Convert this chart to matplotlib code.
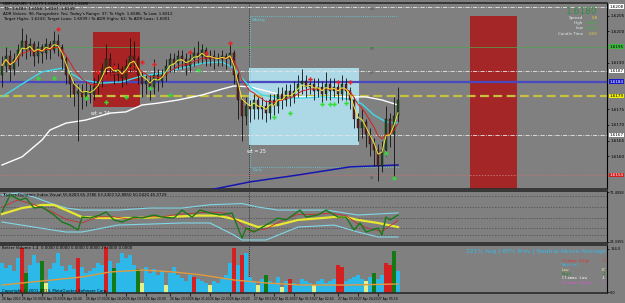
import numpy as np
import pandas as pd
import matplotlib
matplotlib.use("Agg")
import matplotlib.pyplot as plt
from matplotlib.patches import Rectangle
from matplotlib.ticker import FormatStrFormatter

# ===========================================
# GBPUSD M5 chart with TDI + Better Volume

### Price bars (open of first bar, then close / high / low per bar)
first_open = 1.6186
close = [1.6189, 1.6192, 1.6188, 1.6191, 1.6194, 1.6197, 1.6194, 1.6196, 1.6192, 1.6195,
         1.6193, 1.6196, 1.6194, 1.6197, 1.6195, 1.6191, 1.6186, 1.6183, 1.6180, 1.6181,
         1.6179, 1.6181, 1.6180, 1.6182, 1.6184, 1.6188, 1.6191, 1.6189, 1.6186, 1.6188,
         1.6185, 1.6189, 1.6192, 1.6191, 1.6186, 1.6183, 1.6184, 1.6182, 1.6186, 1.6184,
         1.6186, 1.6189, 1.6191, 1.6190, 1.6192, 1.6191, 1.6189, 1.6191, 1.6193, 1.6192,
         1.6194, 1.6191, 1.6192, 1.6191, 1.6191, 1.6192, 1.6191, 1.6193, 1.6186, 1.6178,
         1.6173, 1.6176, 1.6175, 1.6178, 1.6175, 1.6176, 1.6174, 1.6178, 1.6176, 1.6180,
         1.6178, 1.6181, 1.6179, 1.6181, 1.6183, 1.6184, 1.6182, 1.6183, 1.6181, 1.6182,
         1.6180, 1.6183, 1.6181, 1.6182, 1.6180, 1.6183, 1.6181, 1.6178, 1.6172, 1.6169,
         1.6171, 1.6167, 1.6164, 1.6162, 1.6157, 1.6162, 1.6172, 1.6167, 1.6173, 1.6178]
high = [1.6192, 1.6195, 1.6194, 1.6193, 1.6196, 1.6201, 1.6199, 1.6198, 1.6197, 1.6197,
        1.6196, 1.6198, 1.6197, 1.6200, 1.6199, 1.6196, 1.6192, 1.6187, 1.6184, 1.6183,
        1.6183, 1.6184, 1.6183, 1.6185, 1.6187, 1.6190, 1.6196, 1.6193, 1.6190, 1.6190,
        1.6189, 1.6191, 1.6198, 1.6197, 1.6192, 1.6187, 1.6186, 1.6186, 1.6191, 1.6188,
        1.6188, 1.6191, 1.6193, 1.6193, 1.6194, 1.6194, 1.6193, 1.6193, 1.6195, 1.6197,
        1.6196, 1.6195, 1.6194, 1.6194, 1.6193, 1.6194, 1.6193, 1.6196, 1.6194, 1.6187,
        1.6179, 1.6179, 1.6178, 1.6180, 1.6179, 1.6179, 1.6178, 1.6180, 1.6180, 1.6182,
        1.6182, 1.6183, 1.6183, 1.6184, 1.6186, 1.6188, 1.6186, 1.6185, 1.6185, 1.6185,
        1.6184, 1.6187, 1.6185, 1.6185, 1.6184, 1.6186, 1.6185, 1.6182, 1.6179, 1.6174,
        1.6175, 1.6172, 1.6169, 1.6166, 1.6164, 1.6165, 1.6176, 1.6174, 1.6179, 1.6182]
low = [1.6182, 1.6187, 1.6184, 1.6186, 1.6189, 1.6192, 1.6191, 1.6192, 1.6189, 1.6190,
       1.6190, 1.6191, 1.6191, 1.6193, 1.6192, 1.6188, 1.6183, 1.6179, 1.6176, 1.6165,
       1.6175, 1.6176, 1.6177, 1.6178, 1.6180, 1.6182, 1.6186, 1.6186, 1.6183, 1.6184,
       1.6182, 1.6183, 1.6187, 1.6188, 1.6183, 1.6179, 1.6180, 1.6178, 1.6180, 1.6181,
       1.6182, 1.6184, 1.6187, 1.6187, 1.6188, 1.6188, 1.6186, 1.6187, 1.6189, 1.6190,
       1.6190, 1.6189, 1.6189, 1.6188, 1.6189, 1.6189, 1.6188, 1.6189, 1.6183, 1.6172,
       1.6165, 1.6170, 1.6171, 1.6172, 1.6172, 1.6172, 1.6171, 1.6172, 1.6173, 1.6174,
       1.6175, 1.6176, 1.6176, 1.6177, 1.6179, 1.6180, 1.6179, 1.6180, 1.6178, 1.6179,
       1.6177, 1.6178, 1.6178, 1.6179, 1.6177, 1.6178, 1.6178, 1.6175, 1.6169, 1.6165,
       1.6166, 1.6163, 1.6160, 1.6157, 1.6152, 1.6155, 1.6160, 1.6163, 1.6153, 1.6171]

### Slow moving averages
cyan_bar = [0, 5, 10, 15, 20, 25, 30, 35, 40, 45, 50, 55, 58, 60, 62, 65, 70, 75, 80, 85, 88, 90, 93, 96, 99]
cyan_ma = [1.61790, 1.61831, 1.61870, 1.61882, 1.61844, 1.61834, 1.61838, 1.61857, 1.61866, 1.61882,
           1.61898, 1.61902, 1.61882, 1.61850, 1.61822, 1.61796, 1.61786, 1.61786, 1.61790, 1.61786,
           1.61780, 1.61767, 1.61732, 1.61710, 1.61706]
white_bar = [0, 5, 10, 12, 16, 21, 27, 31, 35, 39, 44, 50, 55, 58, 62, 70, 75, 83, 91, 95, 99]
white_ma = [1.61572, 1.61598, 1.61652, 1.61684, 1.61706, 1.61716, 1.61738, 1.61742, 1.61764, 1.61770,
            1.61780, 1.61796, 1.61815, 1.61825, 1.61822, 1.61796, 1.61790, 1.61790, 1.61790, 1.61780,
            1.61764]
blue_bar = [50, 53, 62, 74, 87, 99]
blue_ma = [1.61485, 1.61495, 1.61518, 1.61540, 1.61566, 1.61572]

### Signal arrows
sell_bar = [14, 24, 28, 35, 38, 47, 51, 57, 77, 84, 87]
sell_price = [1.62007, 1.61870, 1.61886, 1.61902, 1.61895, 1.61934, 1.61930, 1.61962, 1.61847, 1.61838, 1.61838]
buy_bar = [9, 13, 21, 26, 31, 37, 42, 49, 68, 72, 80, 82, 83, 86, 96, 98]
buy_price = [1.61850, 1.61850, 1.61786, 1.61774, 1.61790, 1.61818, 1.61796, 1.61876,
             1.61726, 1.61738, 1.61767, 1.61767, 1.61767, 1.61770, 1.61610, 1.61530]

### Zones (bar from, bar to, price top, price bottom)
zone_from = [22.75, 61.75, 117.0]
zone_to = [34.5, 89.25, 128.75]
zone_top = [1.61998, 1.61882, 1.62049]
zone_bot = [1.61758, 1.61636, 1.61495]
zone_text = ["wt = 24", "wt = 25", ""]

### Horizontal levels
level_price = [1.62078, 1.61873, 1.61668, 1.61950, 1.61838, 1.61793, 1.61540]
level_tag = ["1.6208", "1.6187", "1.6167", "1.6195", "1.6184", "1.6179", "1.6154"]
pivot_name = ["R2", "R1", "PP", "S1"]
pivot_price = [1.62071, 1.61943, 1.61866, 1.61530]
range_top = 1.62049
range_bot = 1.61566
day_break = 61.75
price_ticks = [1.6160, 1.6165, 1.6170, 1.6175, 1.6190, 1.6200, 1.6205]

### TDI
tdi_bar = [0, 2, 4.5, 6, 8, 10, 13, 15, 17, 19, 20, 22, 24.5, 26, 28, 30, 33, 35, 38, 40, 43, 45,
           47.5, 49.5, 52, 54.5, 57.5, 59, 60, 61, 63, 66, 69, 71, 74.5, 76, 79, 81, 84, 86, 88,
           89.5, 91, 94, 95, 96, 97, 99]
rsi_green = [54.0, 68.1, 63.9, 65.6, 57.3, 58.1, 51.5, 45.7, 43.2, 39.1, 49.8, 49.0, 51.5, 54.0,
             47.4, 45.7, 49.8, 49.0, 51.5, 49.8, 49.0, 55.6, 49.8, 55.6, 53.2, 51.5, 53.2, 40.7,
             32.4, 40.7, 37.4, 43.2, 49.0, 47.4, 55.6, 49.8, 51.5, 55.6, 49.8, 49.8, 39.1, 44.9,
             37.4, 40.7, 34.9, 49.8, 47.4, 51.5]
sig_bar = [0, 4, 8, 12, 16, 20, 24, 28, 32, 36, 40, 44, 48, 52, 56, 59, 62, 66, 70, 74, 78, 82, 86, 89, 92, 95, 99]
sig_red = [58, 64, 60, 55, 48, 45, 50, 50, 48, 50, 50, 52, 53, 54, 53, 46, 38, 40, 47, 52, 52, 53, 51, 44, 40, 38, 47]
base_bar = [0, 5, 10, 13, 16, 20, 25, 33, 41, 49, 54, 59, 64, 69, 74, 83, 86, 89, 94, 99]
base_yel = [52.3, 57.3, 59.8, 59.8, 55.6, 49.8, 49.0, 49.0, 49.8, 51.0, 51.0, 47.4, 41.5, 43.2,
            47.4, 49.8, 49.8, 47.4, 44.9, 41.5]
up_bar = [0, 4, 8, 12, 16, 20, 29, 37, 45, 52, 60, 64, 69, 81, 89, 99]
band_up = [68.1, 69.7, 66.4, 61.4, 57.3, 55.6, 55.6, 57.3, 57.3, 60.0, 61.0, 58.1, 55.6, 55.6, 51.5, 53.2]
lo_bar = [0, 8, 16, 20, 29, 37, 45, 52, 58, 60, 66, 74, 83, 89, 94, 99]
band_lo = [45.7, 41.5, 37.4, 37.4, 43.2, 44.0, 44.9, 44.9, 34.9, 30.8, 30.8, 41.5, 43.2, 37.4, 33.3, 33.3]
tdi_levels = [67, 58, 49, 41, 35]

### Better Volume
volume = [120, 100, 112, 88, 140, 180, 80, 112, 152, 120,
          128, 40, 96, 120, 160, 108, 88, 112, 96, 140,
          104, 80, 88, 100, 120, 112, 184, 128, 100, 120,
          160, 140, 152, 112, 96, 40, 104, 80, 96, 72,
          88, 32, 80, 104, 72, 60, 48, 72, 64, 56,
          48, 40, 32, 48, 40, 56, 72, 120, 180, 112,
          152, 160, 64, 48, 32, 56, 72, 48, 40, 64,
          24, 48, 56, 40, 32, 56, 48, 40, 32, 48,
          56, 40, 48, 56, 112, 104, 48, 56, 64, 72,
          56, 48, 64, 80, 56, 72, 120, 112, 168, 88]
vol_type = list("nnnnnchnnn" "hlnnnnnnnc" "nnnnnncnhn" "nnnnhlnnnn" "nlnnnnnncn"
                "nnlnnnnncn" "cnnnlnhnnn" "lncnnnnnln" "nnnnccnnnn" "nlnhnncchn")
avg_bar = [0, 10, 20, 27, 35, 43, 50, 58, 66, 75, 87, 99]
avg_vol = [32, 48, 64, 84, 92, 84, 72, 52, 40, 32, 32, 36]

time_ticks = [0, 5, 10, 15, 21, 26, 31, 36, 42, 47, 52, 57, 63, 68, 73, 78, 84, 89, 94]
time_labels = ["26 Apr 2013", "26 Apr 15:00", "26 Apr 15:50", "26 Apr 16:40", "26 Apr 17:30",
               "26 Apr 18:20", "26 Apr 19:10", "26 Apr 20:00", "26 Apr 20:50", "26 Apr 21:40",
               "26 Apr 22:30", "26 Apr 23:20", "27 Apr 00:10", "27 Apr 01:00", "27 Apr 01:50",
               "27 Apr 02:40", "27 Apr 03:30", "27 Apr 04:20", "27 Apr 05:10"]

# ===========================================

W, H = 625., 303.
BG = '#808080'
TS = 3.0  # tiny MT4 text size

def fy(ypx):
    return 1 - ypx / H

fig = plt.figure(figsize=(6.25, 3.03), dpi=100)
fig.patch.set_facecolor(BG)

right = 607 / W
ax1 = fig.add_axes([0, fy(189), right, 186 / H])
ax2 = fig.add_axes([0, fy(243), right, 52 / H])
ax3 = fig.add_axes([0, fy(293), right, 48 / H])

for ax in (ax1, ax2, ax3):
    ax.set_facecolor(BG)
    ax.set_xlim(-0.5, 151.25)
    ax.spines['left'].set_visible(False)
    for s in ('top', 'bottom'):
        ax.spines[s].set_color('#2a2a2a')
        ax.spines[s].set_linewidth(1.2)
    ax.spines['right'].set_color('black')
    ax.spines['right'].set_linewidth(0.8)
    ax.yaxis.tick_right()
    ax.tick_params(axis='y', labelsize=TS, length=1.5, pad=0.8, width=0.5)
    ax.tick_params(axis='x', length=0, labelbottom=False)
    ax.axvline(day_break, color='#1a1a1a', ls=(0, (1, 1.5)), lw=0.6, zorder=1)

### ---- main price panel ----
ax1.set_ylim(1.614952, 1.620904)
ax1.set_yticks(price_ticks)
ax1.yaxis.set_major_formatter(FormatStrFormatter('%.4f'))

zone_col = ['#a82424', '#add8e6', '#a52626']
for i in range(len(zone_from)):
    ax1.add_patch(Rectangle((zone_from[i], zone_bot[i]), zone_to[i] - zone_from[i],
                            zone_top[i] - zone_bot[i], fc=zone_col[i], ec='none', zorder=1))
    if zone_text[i]:
        ax1.text(zone_from[i] - 0.5, zone_bot[i] - 0.0002, zone_text[i], color='white',
                 fontsize=3.4, va='center', ha='left', zorder=6)

# horizontal levels
lv_style = [dict(color='#e8e8e8', ls=(0, (5, 1.5, 1, 1.5)), lw=0.6),
            dict(color='#e8e8e8', ls=(0, (5, 1.5, 1, 1.5)), lw=0.6),
            dict(color='#e8e8e8', ls=(0, (5, 1.5, 1, 1.5)), lw=0.6),
            dict(color='#4ea84e', ls='-', lw=0.5),
            dict(color='#4848c0', ls='-', lw=1.6),
            dict(color='#c8c040', ls=(0, (4, 2)), lw=1.6),
            dict(color='#c07070', ls=(0, (1.5, 1.5)), lw=0.7)]
tag_col = [('white', 'black'), ('white', 'black'), ('white', 'black'), ('#3cb83c', 'black'),
           ('#1a1acc', 'white'), ('#f0f000', 'black'), ('#d02020', 'white')]
for i, p in enumerate(level_price):
    ax1.axhline(p, zorder=2, **lv_style[i])
    ax1.text(1.004, p, level_tag[i], transform=ax1.get_yaxis_transform(), fontsize=TS,
             color=tag_col[i][1], va='center', ha='left', clip_on=False, zorder=10,
             bbox=dict(boxstyle='square,pad=0.1', fc=tag_col[i][0], ec='none'))

# pivot range box
ax1.plot([day_break + 0.25, 98.75], [range_top, range_top], color='#5fd0e0', ls=(0, (1, 1.5)), lw=0.6, zorder=2)
ax1.plot([day_break + 0.25, 99.5], [range_bot, range_bot], color='#5fd0e0', ls=(0, (1, 1.5)), lw=0.6, zorder=2)
ax1.plot([day_break + 0.25, day_break + 0.25], [range_bot, range_top], color='#5fd0e0', ls=(0, (1, 1.5)), lw=0.6, zorder=2)
ax1.text(day_break + 0.8, range_top - 0.00008, "Weekly", color='#5fd0e0', fontsize=2.8, va='top', zorder=6)
ax1.text(day_break + 0.8, range_bot - 0.00004, "Daily", color='#5fd0e0', fontsize=2.8, va='top', zorder=6)
for n, p in zip(pivot_name, pivot_price):
    ax1.text(92, p, n, color='#505050', fontsize=2.8, va='center', zorder=6)

# moving averages
ax1.plot(white_bar, white_ma, color='white', lw=1.0, zorder=3)
ax1.plot(cyan_bar, cyan_ma, color='#40d8e8', lw=1.0, zorder=3)
ax1.plot(blue_bar, blue_ma, color='#1515b0', lw=1.1, zorder=3)

# candles
idx = np.arange(len(close))
opn = np.array([first_open] + close[:-1])
cls = np.array(close)
ax1.vlines(idx, low, high, color='#101010', lw=0.6, zorder=4)
body_lo = np.minimum(opn, cls)
body_h = np.maximum(np.abs(cls - opn), 0.00003)
body_c = np.where(cls >= opn, '#1f4f1f', '#6a1c1c')
ax1.bar(idx, body_h, 0.55, bottom=body_lo, color=body_c, edgecolor='#101010', lw=0.3, zorder=4)

fast = pd.Series(close).ewm(span=3).mean()
slow = pd.Series(close).ewm(span=8).mean()
ax1.plot(idx, slow, color='#d42020', lw=0.7, zorder=5)
ax1.plot(idx, fast, color='#f0e830', lw=0.7, zorder=5)

ax1.plot(sell_bar, sell_price, 'P', color='#e82020', ms=3.2, mew=0, zorder=6)
ax1.plot(buy_bar, buy_price, 'P', color='#30e030', ms=3.2, mew=0, zorder=6)

# header text
hdr = ["GBPUSD,M5  1.6179 1.6182 1.6174 1.6180",
       "TDI: 1.6183  1.6188  1.6197  1.6199",
       "ADR Values: 96, Rangedistr: Yes; Today's Range: 37; To High: 1.6086, To Low: 1.6012",
       "Target Highs: 1.6243; Target Lows: 1.6099 / To ADR Highs: 62; To ADR Lows: 1.6001"]
for k, t in enumerate(hdr):
    fig.text(3 / W, fy(4 + 5 * k), t, fontsize=2.9, color='black', va='center')

fig.text(598 / W, fy(12), "1.6180", fontsize=6.5, color='#2f8f3f', ha='right', va='center')
info = [("Spread", "0.8", '#e0d040'), ("High", "1.6188", '#40b040'),
        ("Low", "1.6162", '#40b040'), ("Candle Time", "0:50", '#e0d040')]
for k, (lab, val, c) in enumerate(info):
    fig.text(583 / W, fy(18 + 5.2 * k), lab, fontsize=2.9, color='#e8e8e8', ha='right', va='center')
    fig.text(598 / W, fy(18 + 5.2 * k), val, fontsize=2.9, color=c, ha='right', va='center')

### ---- TDI panel ----
ax2.set_ylim(28.3, 71.4)
ax2.set_yticks([70.5, 29.3])
ax2.set_yticklabels(["71.4058", "28.3355"])
ax2.tick_params(axis='y', labelsize=2.5)
for lv in tdi_levels:
    ax2.axhline(lv, color='#4a4a4a', ls=(0, (2, 2)), lw=0.5, zorder=1)
ax2.plot(up_bar, band_up, color='#80d8e8', lw=0.8, zorder=2)
ax2.plot(lo_bar, band_lo, color='#80d8e8', lw=0.8, zorder=2)
ax2.plot(base_bar, base_yel, color='#e8e830', lw=1.6, zorder=3)
ax2.plot(sig_bar, sig_red, color='#c83030', lw=0.6, zorder=3)
ax2.plot(tdi_bar, rsi_green, color='#1a7a1a', lw=1.0, zorder=4)
ax2.text(0.004, 0.93, "Traders Dynamic Index Visual 55.8283 65.3786 53.2400 52.8850 50.0420 45.0729",
         transform=ax2.transAxes, fontsize=2.9, color='black', va='center')

### ---- Volume panel ----
ax3.set_ylim(0, 192)
ax3.set_yticks([178, 4])
ax3.set_yticklabels(["184.0", "0.0"])
ax3.tick_params(axis='y', labelsize=2.5)
vcol = {'n': '#2cb8e8', 'c': '#d42020', 'h': '#157a15', 'l': '#e6f08a'}
ax3.bar(idx, volume, 0.8, color=[vcol[t] for t in vol_type], zorder=2)
ax3.plot(avg_bar, avg_vol, color='#e09a40', lw=1.0, zorder=3)
ax3.text(0.004, 0.93, "Better Volume 1.4  0.0000 0.0000 0.0000 0.0000 29.0000 0.0000",
         transform=ax3.transAxes, fontsize=2.9, color='black', va='center')
ax3.text(0.004, 0.05, "Copyright \u00a9 2001-2013, MetaQuotes Software Corp.",
         transform=ax3.transAxes, fontsize=2.9, color='black', va='center', zorder=5)
ax3.text(0.998, 1 - 6 / 48, "221% Avg | 80% Prev | Neutral Above Average",
         transform=ax3.transAxes, fontsize=4.3, color='#38b8e8', ha='right', va='center')
legend = [("Climax High", "3", '#e03030'), ("Neutral", "", '#38b8e8'), ("Low", "17", '#e6f08a'),
          ("High", "2", '#1a8a1a'), ("Climax Low", "-1", 'white'), ("Climax Churn", "-1", '#e050e0')]
for k, (lab, val, c) in enumerate(legend):
    yy = 1 - (16 + 4.3 * k) / 48
    ax3.text(562 / 607, yy, lab, transform=ax3.transAxes, fontsize=3.0, color=c,
             family='DejaVu Sans Mono', va='center')
    ax3.text(0.997, yy, val, transform=ax3.transAxes, fontsize=3.0, color=c,
             family='DejaVu Sans Mono', va='center', ha='right')

ax3.set_xticks(time_ticks)
ax3.set_xticklabels(time_labels)
ax3.tick_params(axis='x', length=2, width=0.5, labelbottom=True, labelsize=2.2, pad=0.8)
for lab in ax3.get_xticklabels():
    lab.set_ha('left')

plt.savefig('out.png', dpi=100, facecolor=BG)
